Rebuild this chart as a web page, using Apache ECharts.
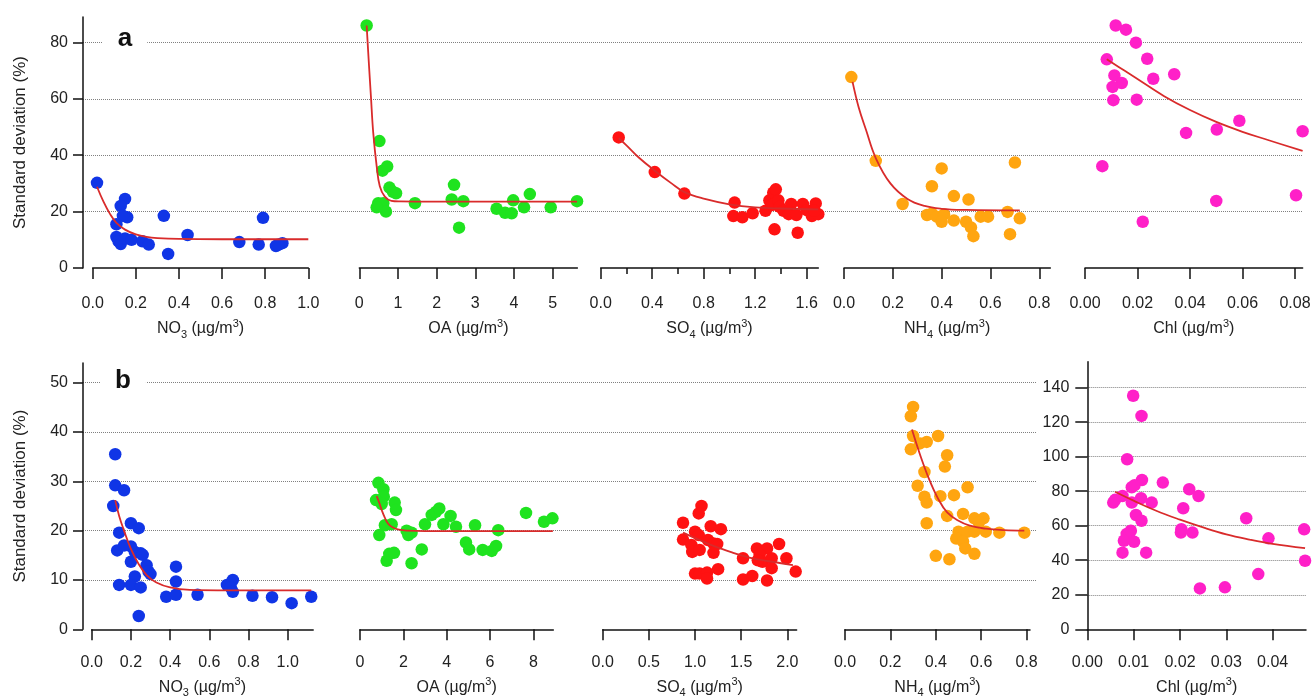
<!DOCTYPE html>
<html><head><meta charset="utf-8">
<script src="https://cdn.jsdelivr.net/npm/echarts@6/dist/echarts.min.js"></script>
<style>html,body{margin:0;padding:0;background:#fff}#c{width:1314px;height:700px}</style>
</head><body><div id="c"></div>
<script>
// ---------- DATA ----------
// Row a
const topNO3 = [[0.02,30.2],[0.15,24.5],[0.13,22],[0.16,18],[0.14,18.5],[0.11,15.5],[0.11,11],[0.12,9.5],[0.13,8.5],[0.15,10.5],[0.18,10],[0.23,9.5],[0.26,8.3],[0.33,18.5],[0.35,5],[0.44,11.7],[0.68,9.2],[0.77,8.3],[0.79,17.8],[0.85,7.8],[0.88,8.8],[0.86,8.2]];
const topNO3Fit = [[0.02,28.8],[0.05,23.5],[0.08,19.2],[0.11,16],[0.15,13.6],[0.2,11.9],[0.25,11],[0.3,10.6],[0.4,10.3],[0.6,10.2],[1.0,10.2]];
const topOA = [[0.19,86],[0.52,45],[0.6,34.5],[0.72,36],[0.78,28.5],[0.87,27],[0.95,26.5],[0.49,23],[0.62,23],[0.69,20],[0.45,21.5],[1.44,23],[2.45,29.5],[2.39,24.3],[2.69,23.7],[2.58,14.3],[3.55,21],[3.77,19.6],[3.94,19.4],[3.98,24],[4.26,21.5],[4.41,26.2],[4.95,21.5],[5.63,23.7]];
const topOAFit = [[0.19,86],[0.25,72],[0.3,61],[0.36,48],[0.45,36],[0.53,29],[0.66,25.3],[0.83,23.8],[1.05,23.6],[2,23.5],[5.63,23.5]];
const topSO4 = [[0.14,46.3],[0.42,34],[0.65,26.4],[1.04,23.2],[1.03,18.4],[1.1,18],[1.18,19.4],[1.28,20.3],[1.31,24],[1.34,26.7],[1.36,27.9],[1.33,22.3],[1.38,24],[1.39,21.7],[1.35,13.7],[1.42,20.3],[1.48,22.7],[1.46,19.1],[1.52,18.8],[1.53,12.5],[1.57,22.7],[1.6,20.5],[1.64,18.4],[1.67,22.9],[1.69,19.1],[1.66,20.3]];
const topSO4Fit = [[0.14,46],[0.2,43.5],[0.3,39],[0.42,34.5],[0.55,30],[0.65,26.9],[0.8,24.6],[1.0,22.6],[1.2,21.5],[1.4,21.1],[1.69,20.8]];
const topNH4 = [[0.03,67.7],[0.13,38],[0.24,22.7],[0.36,29],[0.4,35.3],[0.34,18.8],[0.36,19.3],[0.38,18.2],[0.41,19],[0.4,16.4],[0.45,16.8],[0.45,25.5],[0.51,24.3],[0.5,16.4],[0.52,14.4],[0.53,11.3],[0.56,18.2],[0.59,18.2],[0.67,19.9],[0.68,12],[0.7,37.4],[0.72,17.6]];
const topNH4Fit = [[0.035,66],[0.06,57],[0.09,49],[0.13,39],[0.19,30],[0.26,24.5],[0.33,22],[0.4,21],[0.5,20.6],[0.72,20.4]];
const topChl = [[0.0117,86],[0.0156,84.5],[0.0194,79.9],[0.0083,74],[0.0237,74.2],[0.0112,68.3],[0.026,67.1],[0.034,68.7],[0.014,65.6],[0.0105,64.2],[0.0108,59.5],[0.0197,59.7],[0.0588,52.2],[0.0385,47.9],[0.0502,49.1],[0.0829,48.5],[0.0066,36.1],[0.05,23.8],[0.0804,25.8],[0.022,16.4]];
const topChlFit = [[0.0083,74],[0.015,70],[0.02,67],[0.03,61],[0.04,56],[0.05,51.8],[0.06,48.3],[0.07,45.3],[0.0829,41.5]];
// Row b
const botNO3 = [[0.12,35.5],[0.12,29.2],[0.165,28.2],[0.11,25],[0.14,19.6],[0.13,16],[0.14,9],[0.2,21.5],[0.24,20.5],[0.2,16.8],[0.22,15.7],[0.25,15.4],[0.2,13.7],[0.26,15.1],[0.28,13],[0.29,11.7],[0.3,11.2],[0.22,10.7],[0.2,9],[0.25,8.5],[0.24,2.7],[0.165,17],[0.38,6.6],[0.43,12.7],[0.43,9.7],[0.43,7],[0.54,7],[0.69,9],[0.72,10],[0.71,8.5],[0.72,7.6],[0.82,6.8],[0.92,6.5],[1.02,5.3],[1.12,6.6]];
const botNO3Fit = [[0.12,26.2],[0.14,23],[0.165,20],[0.2,16.3],[0.24,13.2],[0.28,11],[0.33,9.5],[0.4,8.5],[0.5,8],[0.7,7.9],[1.12,7.9]];
const botOA = [[0.85,29.7],[1.08,28.4],[1.1,26.9],[0.74,26.2],[1.0,25.4],[1.6,25.7],[1.66,24.2],[1.15,21.1],[1.46,21.3],[0.89,19.1],[1.23,13.9],[1.35,15.3],[1.57,15.5],[2.15,20],[2.23,19.1],[2.38,19.6],[2.38,13.4],[2.85,16.2],[3.0,21.3],[3.31,23.2],[3.5,23.8],[3.66,24.5],[3.85,21.3],[4.18,23],[4.43,20.8],[4.89,17.6],[5.04,16.2],[5.31,21.1],[5.66,16.1],[6.08,15.9],[6.28,16.9],[6.38,20.1],[7.66,23.6],[8.49,21.8],[8.88,22.5]];
const botOAFit = [[0.77,27],[0.9,25.5],[1.0,24.2],[1.15,22.6],[1.3,21.4],[1.5,20.7],[1.8,20.2],[2.2,20],[3,19.9],[8.9,19.9]];
const botSO4 = [[1.07,25],[1.04,23.5],[0.87,21.6],[0.87,18.2],[1.0,19.8],[1.04,19.1],[0.96,17.1],[0.97,15.7],[1.05,16.1],[1.17,20.9],[1.28,20.3],[1.14,18.1],[1.2,17.4],[1.24,17.3],[1.2,15.5],[1.0,11.3],[1.05,11.3],[1.13,11.5],[1.13,10.3],[1.25,12.2],[1.52,14.4],[1.52,10.1],[1.62,10.8],[1.67,16.4],[1.78,16.4],[1.7,15.1],[1.73,13.7],[1.83,14.4],[1.83,12.4],[1.91,17.3],[1.99,14.4],[1.78,9.9],[2.09,11.7],[1.68,14]];
const botSO4Fit = [[0.87,19.6],[1.0,18.5],[1.2,16.9],[1.4,15.6],[1.6,14.5],[1.8,13.8],[2.06,13]];
const botNH4 = [[0.3,45.1],[0.29,43.2],[0.3,39.2],[0.29,36.5],[0.33,37.7],[0.36,38],[0.41,39.2],[0.45,35.3],[0.44,33],[0.35,31.9],[0.32,29.1],[0.35,26.9],[0.36,25.7],[0.42,27],[0.48,27.2],[0.54,28.8],[0.36,21.5],[0.45,23],[0.52,23.4],[0.57,22.5],[0.61,22.5],[0.5,19.8],[0.54,19.8],[0.57,19.8],[0.62,19.8],[0.68,19.6],[0.79,19.6],[0.49,18.4],[0.52,17.8],[0.53,16.4],[0.57,15.3],[0.4,14.9],[0.46,14.2],[0.59,21.7]];
const botNH4Fit = [[0.295,40.5],[0.33,35.5],[0.37,30.5],[0.41,26.5],[0.45,23.7],[0.5,22],[0.55,21],[0.62,20.4],[0.7,20.1],[0.79,20]];
const botChl = [[0.0099,135.3],[0.0117,123.6],[0.0086,98.5],[0.0118,86.5],[0.0096,82.3],[0.0102,83.5],[0.0163,85],[0.022,81.1],[0.024,77.2],[0.0056,73.4],[0.006,75],[0.0076,77.2],[0.0096,73.4],[0.0116,75.9],[0.0139,73.4],[0.0207,70.1],[0.0105,66.2],[0.0117,62.9],[0.0094,57.1],[0.0085,55.2],[0.0079,51.3],[0.0101,50.7],[0.0076,44.4],[0.0127,44.4],[0.0202,56],[0.0203,58],[0.0227,56],[0.0343,64.3],[0.0391,52.7],[0.0369,32],[0.0243,23.7],[0.0297,24.3],[0.0468,57.9],[0.047,39.7]];
const botChlFit = [[0.006,79.7],[0.01,74.5],[0.015,68.5],[0.02,63.5],[0.025,59],[0.03,55],[0.035,52],[0.04,49.5],[0.047,47]];

// Tick values
const topYTicks = [0,20,40,60,80];
const botYTicks = [0,10,20,30,40,50];
const chlBYTicks = [0,20,40,60,80,100,120,140];
const topNO3Ticks = [0,0.2,0.4,0.6,0.8,1.0];
const topOATicks = [0,1,2,3,4,5];
const topSO4Ticks = [0,0.4,0.8,1.2,1.6];
const topNH4Ticks = [0,0.2,0.4,0.6,0.8];
const topChlTicks = [0,0.02,0.04,0.06,0.08];
const botNO3Ticks = [0,0.2,0.4,0.6,0.8,1.0];
const botOATicks = [0,2,4,6,8];
const botSO4Ticks = [0,0.5,1.0,1.5,2.0];
const botNH4Ticks = [0,0.2,0.4,0.6,0.8];
const botChlTicks = [0,0.01,0.02,0.03,0.04];

// Texts
const yTitle = 'Standard deviation (%)';
const nameNO3 = '{n|NO}{s|3}{n| (µg/m}{p|3}{n|)}';
const nameOA = '{n|OA (µg/m}{p|3}{n|)}';
const nameSO4 = '{n|SO}{s|4}{n| (µg/m}{p|3}{n|)}';
const nameNH4 = '{n|NH}{s|4}{n| (µg/m}{p|3}{n|)}';
const nameChl = '{n|Chl (µg/m}{p|3}{n|)}';

// ---------- STYLE ----------
const FONT = '"Liberation Sans", Arial, sans-serif';
const TXT = '#222';
const AX = '#111';
const FIT = '#d92b2b';
const BLUE = '#1035e6', GREEN = '#1fe31f', RED = '#ff1212', ORANGE = '#ffa510', MAGENTA = '#ff20c8';
const rich = {
  n: {fontSize: 16, fontFamily: FONT, color: TXT, lineHeight: 22},
  s: {fontSize: 11, fontFamily: FONT, color: TXT, lineHeight: 12, verticalAlign: 'bottom'},
  p: {fontSize: 11, fontFamily: FONT, color: TXT, lineHeight: 12, verticalAlign: 'top'}
};

const grids = [], xAxes = [], yAxes = [], series = [];

function yAxisCfg(gi, ymax, ticks, name, margin, tickLen) {
  return {
    type: 'value', gridIndex: gi, min: 0, max: ymax, interval: ticks[1] - ticks[0],
    axisLine: {show: true, onZero: false, lineStyle: {color: AX, width: 1.5}},
    axisTick: {show: true, length: tickLen, customValues: ticks, lineStyle: {color: AX, width: 1.5}},
    axisLabel: {show: true, customValues: ticks, margin: margin, fontSize: 16, color: TXT, fontFamily: FONT},
    splitLine: {show: true, showMinLine: false, lineStyle: {color: '#808080', type: 'dotted', width: 1}},
    name: name, nameLocation: 'middle', nameGap: 54,
    nameTextStyle: {fontSize: 17, fontFamily: FONT, color: TXT}
  };
}

function addBg(box, ymax, ticks) {
  const gi = grids.length;
  grids.push(Object.assign({containLabel: false}, box));
  xAxes.push({type: 'value', gridIndex: gi, min: 0, max: 1, show: false});
  yAxes.push(yAxisCfg(gi, ymax, ticks, yTitle, 15, 10));
}

function addPanel(p) {
  const gi = grids.length;
  grids.push(Object.assign({containLabel: false}, p.box));
  xAxes.push({
    type: 'value', gridIndex: gi, min: 0, max: p.xmax, interval: p.ticks[1] - p.ticks[0],
    axisLine: {show: true, onZero: false, lineStyle: {color: AX, width: 1.5}},
    axisTick: {show: true, length: 11, customValues: p.ticks, lineStyle: {color: AX, width: 1.5}},
    minorTick: p.minor ? {show: true, splitNumber: 2, length: 6, lineStyle: {color: AX, width: 1.5}} : {show: false},
    axisLabel: {show: true, customValues: p.ticks, margin: p.margin, fontSize: 16, color: TXT, fontFamily: FONT,
      formatter: v => Number(v).toFixed(p.dec)},
    splitLine: {show: false},
    name: p.name, nameLocation: 'middle', nameGap: p.nameGap, nameTextStyle: {rich: rich}
  });
  if (p.yTicks) yAxes.push(yAxisCfg(gi, p.ymax, p.yTicks, '', 18, 12));
  else yAxes.push({type: 'value', gridIndex: gi, min: 0, max: p.ymax, show: false});
  series.push({type: 'scatter', xAxisIndex: gi, yAxisIndex: gi, data: p.pts, symbolSize: 12.5,
    itemStyle: {color: p.color, opacity: 1}, z: 2, silent: true});
  series.push({type: 'line', xAxisIndex: gi, yAxisIndex: gi, data: p.fit, smooth: 0.4,
    showSymbol: false, symbol: 'none', lineStyle: {color: FIT, width: 1.8}, z: 3, silent: true});
}

// Row a
const TOP = {top: 17, height: 251};
addBg({left: 83, top: TOP.top, width: 1220, height: TOP.height}, 89, topYTicks);
addPanel({box: {left: 92.7, top: TOP.top, width: 215.6, height: TOP.height}, xmax: 1.0, ymax: 89, ticks: topNO3Ticks, dec: 1, name: nameNO3, pts: topNO3, fit: topNO3Fit, color: BLUE, margin: 28, nameGap: 50});
addPanel({box: {left: 359.3, top: TOP.top, width: 218.1, height: TOP.height}, xmax: 5.64, ymax: 89, ticks: topOATicks, dec: 0, name: nameOA, pts: topOA, fit: topOAFit, color: GREEN, margin: 28, nameGap: 50});
addPanel({box: {left: 600.7, top: TOP.top, width: 217.6, height: TOP.height}, xmax: 1.69, ymax: 89, ticks: topSO4Ticks, dec: 1, minor: true, name: nameSO4, pts: topSO4, fit: topSO4Fit, color: RED, margin: 28, nameGap: 50});
addPanel({box: {left: 844, top: TOP.top, width: 206.3, height: TOP.height}, xmax: 0.845, ymax: 89, ticks: topNH4Ticks, dec: 1, name: nameNH4, pts: topNH4, fit: topNH4Fit, color: ORANGE, margin: 28, nameGap: 50});
addPanel({box: {left: 1085, top: TOP.top, width: 217.6, height: TOP.height}, xmax: 0.0829, ymax: 89, ticks: topChlTicks, dec: 2, name: nameChl, pts: topChl, fit: topChlFit, color: MAGENTA, margin: 28, nameGap: 50});

// Row b
const BOT = {top: 363, height: 266.3};
addBg({left: 83, top: BOT.top, width: 954, height: BOT.height}, 54, botYTicks);
addPanel({box: {left: 91.7, top: BOT.top, width: 221.5, height: BOT.height}, xmax: 1.13, ymax: 54, ticks: botNO3Ticks, dec: 1, name: nameNO3, pts: botNO3, fit: botNO3Fit, color: BLUE, margin: 25, nameGap: 47});
addPanel({box: {left: 360, top: BOT.top, width: 193.3, height: BOT.height}, xmax: 8.92, ymax: 54, ticks: botOATicks, dec: 0, name: nameOA, pts: botOA, fit: botOAFit, color: GREEN, margin: 25, nameGap: 47});
addPanel({box: {left: 602.7, top: BOT.top, width: 193.9, height: BOT.height}, xmax: 2.1, ymax: 54, ticks: botSO4Ticks, dec: 1, name: nameSO4, pts: botSO4, fit: botSO4Fit, color: RED, margin: 25, nameGap: 47});
addPanel({box: {left: 845, top: BOT.top, width: 185, height: BOT.height}, xmax: 0.815, ymax: 54, ticks: botNH4Ticks, dec: 1, name: nameNH4, pts: botNH4, fit: botNH4Fit, color: ORANGE, margin: 25, nameGap: 47});
addPanel({box: {left: 1087.3, top: 361.7, width: 218.7, height: 267.6}, xmax: 0.0472, ymax: 155, yTicks: chlBYTicks, ticks: botChlTicks, dec: 2, name: nameChl, pts: botChl, fit: botChlFit, color: MAGENTA, margin: 25, nameGap: 47});

const chart = echarts.init(document.getElementById('c'), null, {renderer: 'canvas'});
chart.setOption({
  animation: false,
  backgroundColor: '#fff',
  grid: grids, xAxis: xAxes, yAxis: yAxes, series: series,
  graphic: [
    {type: 'text', x: 125, y: 39, z: 100, style: {text: 'a', font: 'bold 26px ' + FONT, fill: '#111', textAlign: 'center', textVerticalAlign: 'middle', backgroundColor: '#fff', padding: [2, 15]}},
    {type: 'text', x: 123, y: 381, z: 100, style: {text: 'b', font: 'bold 26px ' + FONT, fill: '#111', textAlign: 'center', textVerticalAlign: 'middle', backgroundColor: '#fff', padding: [2, 15]}}
  ]
});
</script>
</body></html>
